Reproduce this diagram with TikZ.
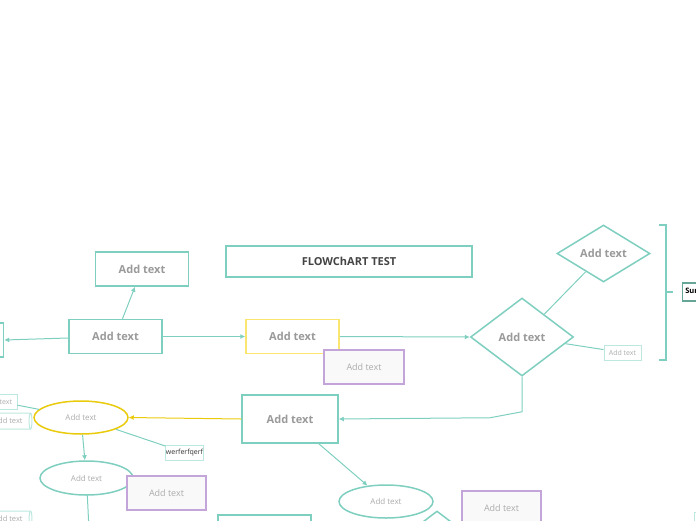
\documentclass[tikz,border=0pt]{standalone}
\usepackage{fontspec}
\setmainfont{Open Sans}
\usepackage{tikz}
\usetikzlibrary{shapes.geometric, arrows.meta, positioning}
\definecolor{fcTeal}{HTML}{7ECFBF}
\definecolor{fcTagline}{HTML}{BDE8DF}
\definecolor{fcYellow}{HTML}{FAE66E}
\definecolor{fcGold}{HTML}{EACB0C}
\definecolor{fcPurple}{HTML}{C3A5D9}
\definecolor{fcNote}{HTML}{F9F9F9}
\definecolor{fcGray}{HTML}{9A9A9A}
\definecolor{fcSoft}{HTML}{ACACAC}
\definecolor{fcInk}{HTML}{444444}
\tikzset{
  fcbox/.style={draw=fcTeal, fill=white, line width=1.5pt, inner sep=0pt,
                minimum width=93pt, minimum height=34pt, text=fcGray,
                font=\fontsize{11}{13}\selectfont\bfseries},
  fcnote/.style={draw=fcPurple, fill=fcNote, line width=1.5pt, inner sep=0pt,
                 minimum width=79pt, minimum height=34pt, text=fcSoft,
                 font=\fontsize{9}{11}\selectfont},
  fcdiam/.style={diamond, draw=fcTeal, fill=white, line width=1.5pt, inner sep=0pt,
                 minimum width=103pt, minimum height=78pt, text=fcGray,
                 font=\fontsize{11}{13}\selectfont\bfseries},
  fcell/.style={ellipse, draw=fcTeal, fill=white, line width=1.5pt, inner sep=0pt,
                minimum width=94pt, minimum height=33pt, text=fcSoft,
                font=\fontsize{8}{10}\selectfont},
  fctag/.style={draw=fcTagline, fill=white, line width=1pt, inner sep=0pt,
                minimum width=37pt, minimum height=15pt, text=fcSoft,
                font=\fontsize{7}{8}\selectfont},
  fccyl/.style={cylinder, draw=fcTagline, fill=white, line width=1pt, inner sep=0pt,
                minimum width=16pt, minimum height=46pt, aspect=0.5, text=fcSoft,
                font=\fontsize{7.5}{8}\selectfont},
  fcline/.style={draw=fcTeal, line width=1pt},
  fcarrow/.style={fcline, -{Latex[length=5pt,width=5pt]}},
}

\begin{document}
\begin{tikzpicture}[x=1pt, y=-1pt]
\useasboundingbox (0,0) rectangle (696,520);
\clip (0,0) rectangle (696,520);

\node[fcbox, minimum width=246pt, minimum height=31pt, text=fcInk] (title) at (349,261.5) {FLOWChART TEST};
\node[fcbox] (topbox) at (142,269) {Add text};
\node[fcbox] (startbox) at (115.5,336.5) {Add text};
\node[fcbox] (edgebox) at (-43,340) {};
\node[fcbox, draw=fcYellow] (ybox) at (292.5,336.5) {Add text};
\node[fcnote, minimum width=80pt] (note1) at (364,367) {Add text};
\node[fcdiam] (dbig) at (522,337) {Add text};
\node[fcdiam, minimum width=93pt, minimum height=57pt] (dtop) at (603.5,253.5) {Add text};
\node[fctag] (tagdia) at (622.5,352.5) {Add text};
\node[fcbox, draw=fcTeal!80!black, text=black, minimum width=40pt, minimum height=18pt,
      anchor=west, inner xsep=3pt, font=\fontsize{7.5}{9}\selectfont\bfseries] (summ) at (681.5,292) {Summary};

\node[fcbox, minimum width=96pt, minimum height=48pt] (cbox) at (290,419) {Add text};
\node[fcell, draw=fcGold] (yell) at (81,417.5) {Add text};
\node[fctag, text=black!80] (tagw) at (184.5,452.5) {werferfqerf};
\node[fctag] (tagt) at (-1.5,401.5) {Add text};
\node[fccyl] (cylA) at (8,421) {Add text};
\node[fcell, minimum width=93pt, minimum height=34pt] (tell) at (86.5,478) {Add text};
\node[fcnote] (note2) at (166.5,493) {Add text};
\node[fccyl] (cylB) at (8,519) {Add text};
\node[fcbox] (botbox) at (264.5,532) {};
\node[fcell] (bell) at (386,501.5) {Add text};
\node[fcdiam] (dbot) at (437,550) {};
\node[fcnote] (note3) at (501.5,508) {Add text};
\node[fctag, anchor=north west] (tagr) at (694,512) {};
\coordinate (downend) at (89,530);
\coordinate (brtop) at (659,225);
\coordinate (brbot) at (659,360);

\draw[fcarrow] (startbox) -- (edgebox.east);
\draw[fcarrow] (startbox) -- (topbox);
\draw[fcarrow] (startbox.east) -- (ybox.west);
\draw[fcarrow] (ybox.east) -- (dbig.west);
\draw[fcline] (dbig) -- (dtop);
\draw[fcline] (dbig) -- (tagdia);
\draw[fcarrow] (dbig.south) -- ++(0,35) -- ++(-32,6) -- (cbox.east);
\draw[fcarrow, draw=fcGold] (cbox.west) -- (yell.east);
\draw[fcline] (yell) -- (tagw);
\draw[fcline] (yell) -- (tagt);
\draw[fcarrow] (yell) -- (tell);
\draw[fcline] (tell) -- (downend);
\draw[fcarrow] (cbox) -- (bell);
\draw[fcline, line width=1.5pt] (brtop) -- ++(7,0) |- (brbot);
\draw[fcline, line width=1.5pt] (666,292) -- (673,292);
\end{tikzpicture}
\end{document}
